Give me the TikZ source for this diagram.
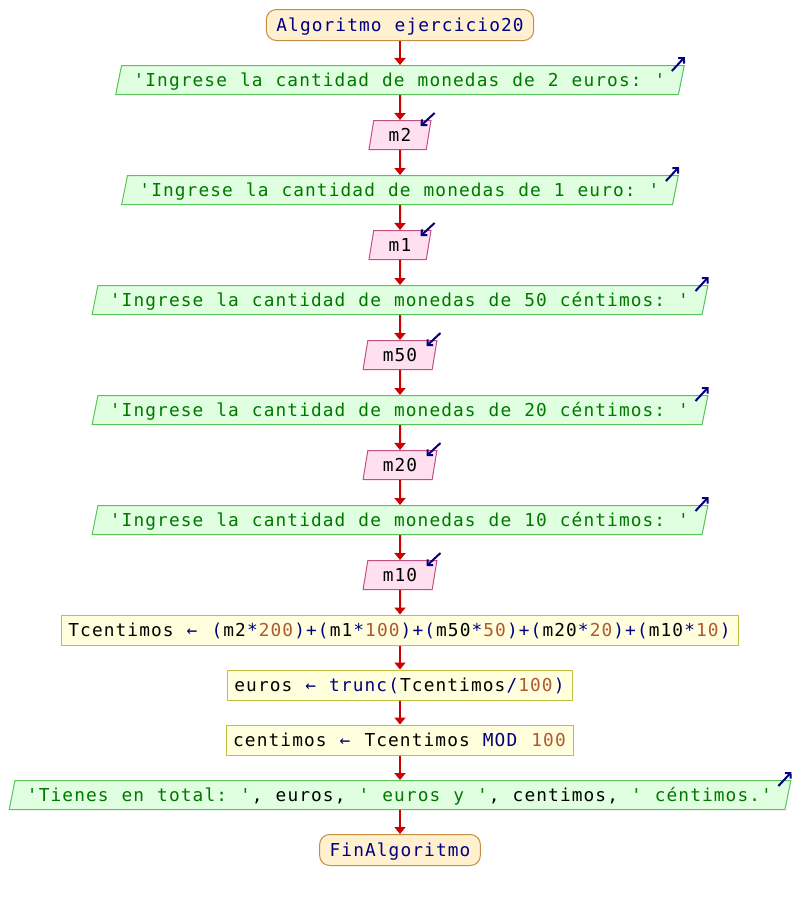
\documentclass[tikz,border=0pt]{standalone}
\usepackage{fontspec}
\setmonofont{DejaVu Sans Mono}[LetterSpace=6.2,WordSpace=1.104]
\usepackage{tikz}
\usetikzlibrary{arrows.meta,shapes.geometric}
\definecolor{flowred}{RGB}{204, 0, 0}
\definecolor{navy}{RGB}{0, 0, 128}
\definecolor{strgreen}{RGB}{0, 120, 0}
\definecolor{numbrown}{RGB}{176, 88, 48}
\definecolor{termfill}{RGB}{255, 240, 208}
\definecolor{termline}{RGB}{200, 140, 64}
\definecolor{outfill}{RGB}{224, 255, 224}
\definecolor{outline}{RGB}{90, 196, 90}
\definecolor{infill}{RGB}{255, 224, 240}
\definecolor{inline}{RGB}{192, 80, 128}
\definecolor{asgfill}{RGB}{255, 255, 221}
\definecolor{asgline}{RGB}{192, 192, 64}
\newcommand{\pseintfont}{\ttfamily\fontsize{17.8pt}{20pt}\selectfont}
% el espaciado entre letras se pierde al cambiar de color
\newcommand{\pstr}[1]{\textcolor{strgreen}{#1}\kern1.1pt\relax}
\newcommand{\pop}[1]{\textcolor{navy}{#1}\kern1.1pt\relax}
\newcommand{\pnum}[1]{\textcolor{numbrown}{#1}\kern1.1pt\relax}
\newcommand{\pvar}[1]{#1\kern1.1pt\relax}
\tikzset{
  flow/.style={draw=flowred, line width=2pt, -{Triangle[length=7pt,width=11pt]}},
  ioarrow/.style={draw=navy, line width=2pt, -{Straight Barb[length=4pt,width=8pt]}},
  terminal/.style={draw=termline, fill=termfill, line width=1pt, rounded corners=10pt,
    minimum height=31pt, inner xsep=10pt, text=navy},
  outbox/.style={trapezium, trapezium left angle=66, trapezium right angle=114,
    trapezium stretches=true, draw=outline, fill=outfill, line width=1pt,
    minimum height=29pt, inner xsep=12pt, inner ysep=0pt},
  inbox/.style={trapezium, trapezium left angle=70, trapezium right angle=110,
    trapezium stretches=true, draw=inline, fill=infill, line width=1pt,
    minimum height=29pt, inner xsep=15pt, inner ysep=0pt},
  assign/.style={draw=asgline, fill=asgfill, line width=1pt, minimum height=30pt, inner xsep=7pt}
}
\begin{document}
\begin{tikzpicture}[x=1pt, y=-1pt, font=\pseintfont,
    every node/.style={text height=13pt, text depth=0pt}]
  \useasboundingbox (0,0) rectangle (800,900);
  % inicio
  \node[terminal] (inicio) at (400,25) {Algoritmo ejercicio20};
  % lectura de monedas
  \node[outbox] (msg2e) at (400,80) {\pstr{'Ingrese la cantidad de monedas de 2 euros: '}};
  \node[inbox] (m2) at (400,135) {m2};
  \node[outbox] (msg1e) at (400,190) {\pstr{'Ingrese la cantidad de monedas de 1 euro: '}};
  \node[inbox] (m1) at (400,245) {m1};
  \node[outbox] (msg50) at (400,300) {\pstr{'Ingrese la cantidad de monedas de 50 céntimos: '}};
  \node[inbox] (m50) at (400,355) {m50};
  \node[outbox] (msg20) at (400,410) {\pstr{'Ingrese la cantidad de monedas de 20 céntimos: '}};
  \node[inbox] (m20) at (400,465) {m20};
  \node[outbox] (msg10) at (400,520) {\pstr{'Ingrese la cantidad de monedas de 10 céntimos: '}};
  \node[inbox] (m10) at (400,575) {m10};
  % calculos
  \node[assign] (total) at (400,630) {Tcentimos \pop{←} \pop{(}\pvar{m2}\pop{*}\pnum{200}\pop{)+(}\pvar{m1}\pop{*}\pnum{100}\pop{)+(}\pvar{m50}\pop{*}\pnum{50}\pop{)+(}\pvar{m20}\pop{*}\pnum{20}\pop{)+(}\pvar{m10}\pop{*}\pnum{10}\pop{)}};
  \node[assign] (euros) at (400,685) {euros \pop{← trunc(}\pvar{Tcentimos}\pop{/}\pnum{100}\pop{)}};
  \node[assign] (cents) at (400,740) {centimos \pop{←} Tcentimos \pop{MOD} \pnum{100}};
  % resultado
  \node[outbox] (msgfin) at (400,795) {\pstr{'Tienes en total: '}, euros, \pstr{' euros y '}, centimos, \pstr{' céntimos.'}};
  \node[terminal] (fin) at (400,850) {FinAlgoritmo};
  % flujo
  \foreach \a/\b in {inicio/msg2e, msg2e/m2, m2/msg1e, msg1e/m1, m1/msg50, msg50/m50,
    m50/msg20, msg20/m20, m20/msg10, msg10/m10, m10/total, total/euros, euros/cents,
    cents/msgfin, msgfin/fin}
    \draw[flow] (\a) -- (\b);
  % flechas de entrada y salida
  \foreach \v in {m2, m1, m50, m20, m10}
    \draw[ioarrow] (\v.top right corner) ++(3,-7) -- ++(-14,13);
  \foreach \o in {msg2e, msg1e, msg50, msg20, msg10, msgfin}
    \draw[ioarrow] (\o.top right corner) ++(-13,6) -- ++(13,-14);
\end{tikzpicture}
\end{document}
